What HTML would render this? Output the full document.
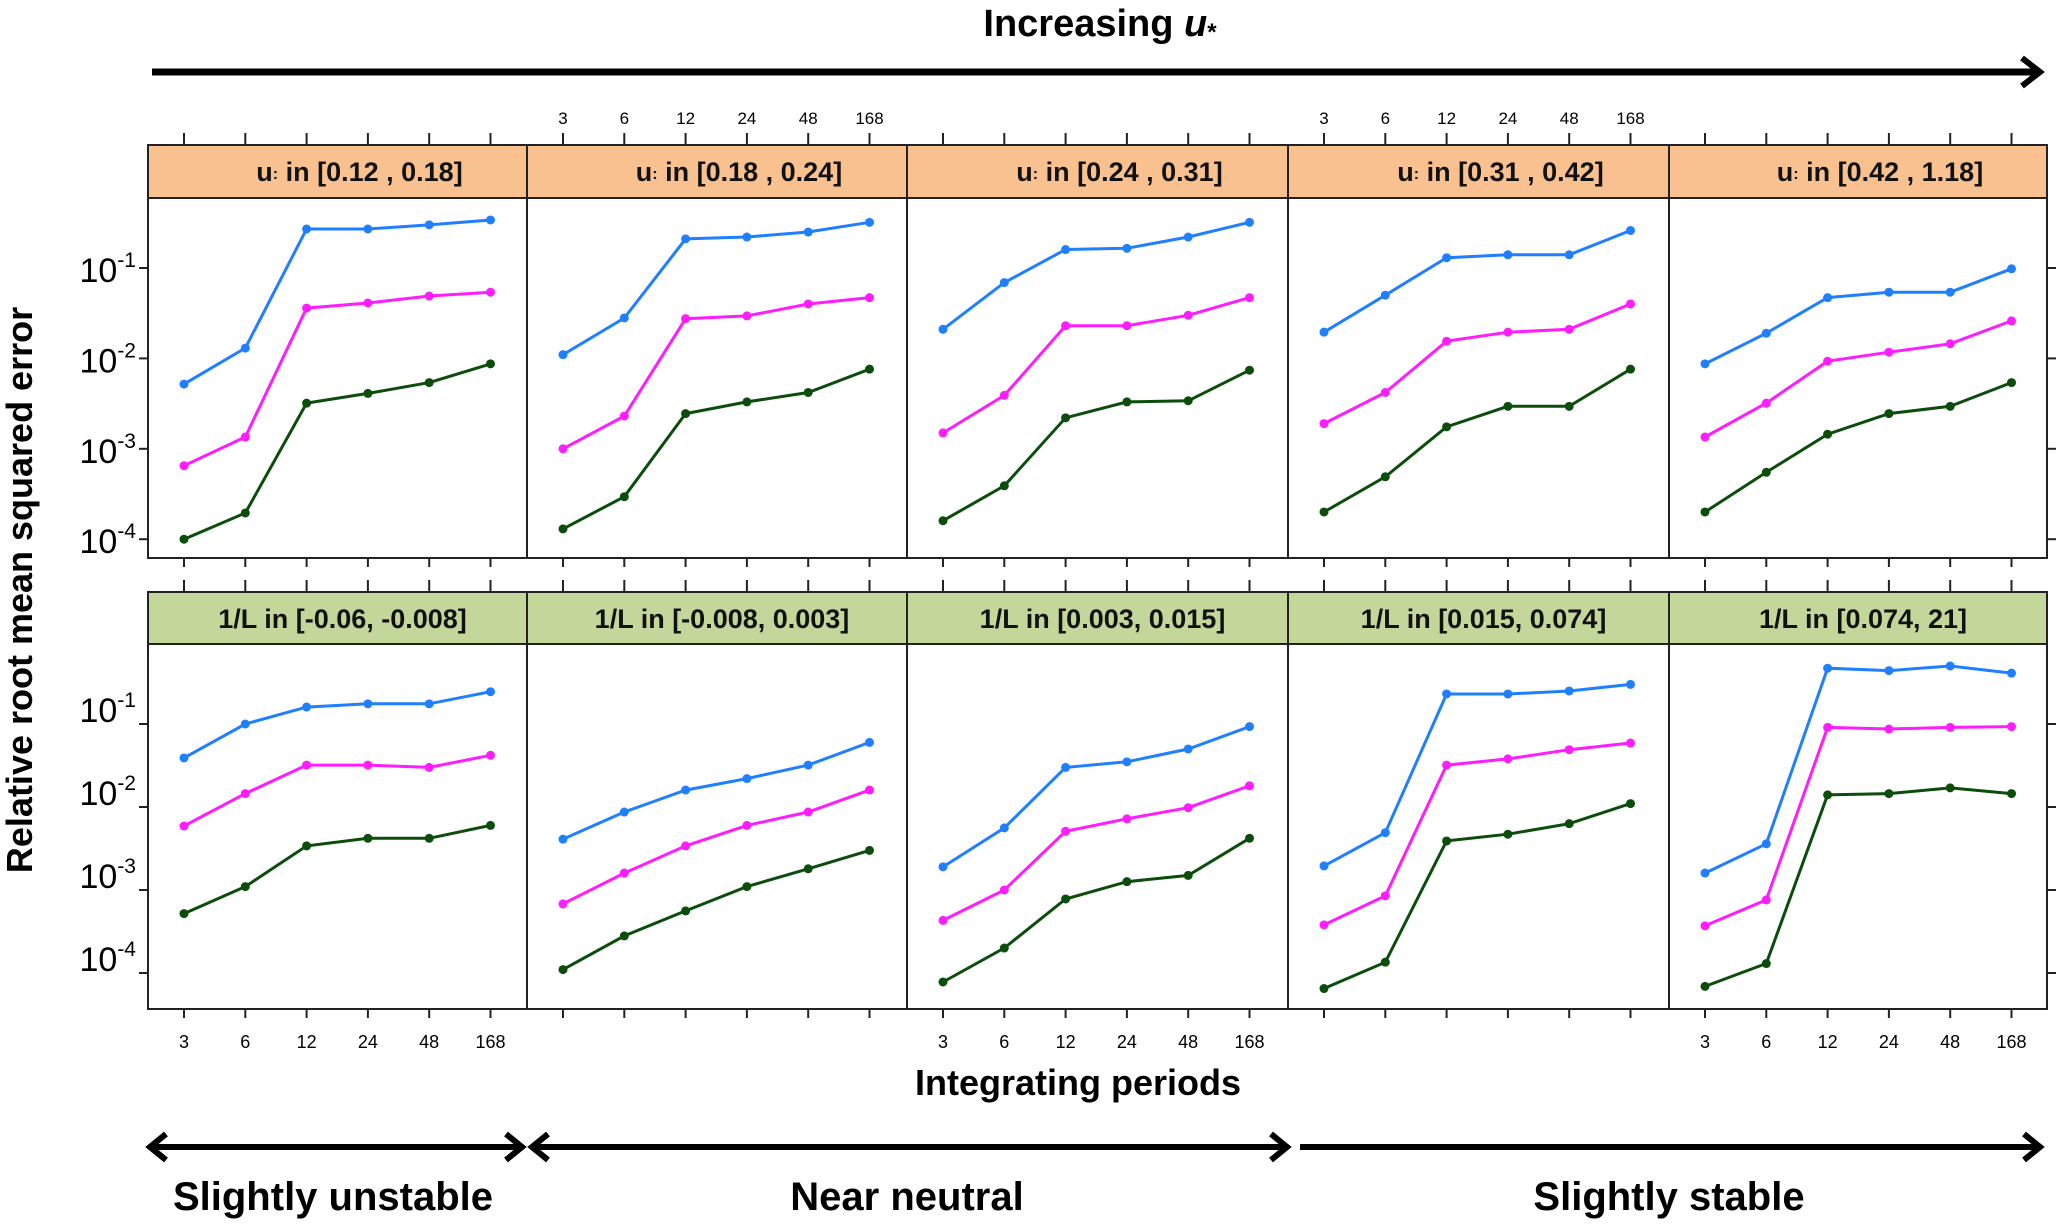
<!DOCTYPE html>
<html><head><meta charset="utf-8"><style>
html,body{margin:0;padding:0;background:#fff}
svg{display:block}
text{font-family:"Liberation Sans",sans-serif}
</style></head><body>
<svg id="chart" width="2067" height="1226" viewBox="0 0 2067 1226" xmlns="http://www.w3.org/2000/svg">
<g id="deco">
  <text x="1100" y="36" font-size="38" font-weight="bold" text-anchor="middle">Increasing <tspan font-style="italic">u</tspan><tspan font-size="24" dy="4">*</tspan></text>
  <g stroke="#000" fill="none" stroke-width="7">
    <line x1="152" y1="72" x2="2036" y2="72"/><polyline points="2022,58 2040,72 2022,86" stroke-width="6"/>
  </g>
  <g stroke="#000" fill="none" stroke-width="6">
    <line x1="152" y1="1147" x2="520" y2="1147"/><polyline points="166,1134 150,1147 166,1160"/><polyline points="506,1134 522,1147 506,1160"/>
    <line x1="534" y1="1147" x2="1285" y2="1147"/><polyline points="548,1134 532,1147 548,1160"/><polyline points="1271,1134 1287,1147 1271,1160"/>
    <line x1="1300" y1="1147" x2="2038" y2="1147"/><polyline points="2024,1134 2040,1147 2024,1160"/>
  </g>
  <text x="333" y="1210" font-size="40" font-weight="bold" text-anchor="middle">Slightly unstable</text>
  <text x="907" y="1210" font-size="40" font-weight="bold" text-anchor="middle">Near neutral</text>
  <text x="1669" y="1210" font-size="40" font-weight="bold" text-anchor="middle">Slightly stable</text>
  <text x="1078" y="1095" font-size="36" font-weight="bold" text-anchor="middle">Integrating periods</text>
  <text transform="translate(32,590) rotate(-90)" font-size="36" font-weight="bold" text-anchor="middle">Relative root mean squared error</text>
</g>
<g id="panels"></g>
</svg>
<script>
const periods = ["3","6","12","24","48","168"];
const topStrips = ["[0.12 , 0.18]","[0.18 , 0.24]","[0.24 , 0.31]","[0.31 , 0.42]","[0.42 , 1.18]"];
const bottomStrips = ["1/L in [-0.06, -0.008]","1/L in [-0.008, 0.003]","1/L in [0.003, 0.015]","1/L in [0.015, 0.074]","1/L in [0.074, 21]"];
const yTickLabels = ["-1","-2","-3","-4"];
const topBlue = [[5.2e-3,1.3e-2,2.7e-1,2.7e-1,3.0e-1,3.4e-1],[1.1e-2,2.8e-2,2.1e-1,2.2e-1,2.5e-1,3.2e-1],[2.1e-2,6.9e-2,1.6e-1,1.65e-1,2.2e-1,3.2e-1],[1.95e-2,5.0e-2,1.3e-1,1.4e-1,1.4e-1,2.6e-1],[8.7e-3,1.9e-2,4.7e-2,5.4e-2,5.4e-2,9.8e-2]];
const topMagenta = [[6.5e-4,1.35e-3,3.6e-2,4.1e-2,4.9e-2,5.4e-2],[1.0e-3,2.3e-3,2.75e-2,2.95e-2,4.0e-2,4.7e-2],[1.5e-3,3.9e-3,2.3e-2,2.3e-2,3.0e-2,4.7e-2],[1.9e-3,4.2e-3,1.55e-2,1.95e-2,2.1e-2,4.0e-2],[1.35e-3,3.2e-3,9.3e-3,1.17e-2,1.45e-2,2.6e-2]];
const topGreen = [[1.0e-4,1.95e-4,3.2e-3,4.1e-3,5.4e-3,8.7e-3],[1.3e-4,2.95e-4,2.45e-3,3.3e-3,4.2e-3,7.6e-3],[1.6e-4,3.9e-4,2.2e-3,3.3e-3,3.4e-3,7.4e-3],[2.0e-4,4.9e-4,1.75e-3,2.95e-3,2.95e-3,7.6e-3],[2.0e-4,5.5e-4,1.45e-3,2.45e-3,2.95e-3,5.4e-3]];
const botBlue = [[3.9e-2,1.0e-1,1.6e-1,1.75e-1,1.75e-1,2.45e-1],[4.1e-3,8.7e-3,1.6e-2,2.2e-2,3.2e-2,6.0e-2],[1.9e-3,5.6e-3,3.0e-2,3.5e-2,5.0e-2,9.3e-2],[1.95e-3,4.9e-3,2.3e-1,2.3e-1,2.5e-1,3.0e-1],[1.6e-3,3.6e-3,4.7e-1,4.4e-1,5.0e-1,4.1e-1]];
const botMagenta = [[5.9e-3,1.45e-2,3.2e-2,3.2e-2,3.0e-2,4.2e-2],[6.8e-4,1.6e-3,3.4e-3,6.0e-3,8.7e-3,1.6e-2],[4.3e-4,1.0e-3,5.1e-3,7.2e-3,9.8e-3,1.8e-2],[3.8e-4,8.5e-4,3.2e-2,3.8e-2,4.9e-2,5.9e-2],[3.7e-4,7.6e-4,9.1e-2,8.7e-2,9.1e-2,9.3e-2]];
const botGreen = [[5.2e-4,1.1e-3,3.4e-3,4.2e-3,4.2e-3,6.0e-3],[1.1e-4,2.8e-4,5.6e-4,1.1e-3,1.8e-3,3.0e-3],[7.8e-5,2.0e-4,7.8e-4,1.26e-3,1.5e-3,4.2e-3],[6.5e-5,1.35e-4,3.9e-3,4.7e-3,6.3e-3,1.1e-2],[6.9e-5,1.3e-4,1.4e-2,1.45e-2,1.7e-2,1.45e-2]];

const NS = "http://www.w3.org/2000/svg";
const root = document.getElementById('panels');
const edges = [148, 527, 907, 1288, 1669, 2047];
const colors = {blue:"#1f7fff", magenta:"#ff1cff", green:"#0b4d0b"};
function mk(tag, attrs, parent){const e=document.createElementNS(NS,tag);for(const k in attrs)e.setAttribute(k,attrs[k]);(parent||root).appendChild(e);return e;}
function xPos(p,i){return edges[p]+36+i*61.3;}
const rows = [
  {stripTop:145, stripBot:198, plotBot:558, dec1:268, decPx:90.4, fill:"#f9c18f", series:[topBlue,topMagenta,topGreen], isTop:true},
  {stripTop:592, stripBot:644, plotBot:1009, dec1:724, decPx:83, fill:"#c4d79b", series:[botBlue,botMagenta,botGreen], isTop:false}
];
function yScale(r,v){return r.dec1 - (Math.log10(v)+1)*r.decPx;}
const serNames=["blue","magenta","green"];
rows.forEach((r,ri)=>{
  for(let p=0;p<5;p++){
    const g=mk('g',{});
    
    
    const st=mk('rect',{x:edges[p],y:r.stripTop,width:edges[p+1]-edges[p],height:r.stripBot-r.stripTop,fill:r.fill,stroke:"#222","stroke-width":2},g);
    
    
    const cx=(edges[p]+edges[p+1])/2+(r.isTop?22:5);
    const t=mk('text',{x:cx,y:r.stripTop+36,"font-size":27,"font-weight":"bold","text-anchor":"middle",fill:"#111"},g);
    
    
    if(r.isTop){t.innerHTML='u<tspan font-size="16" dy="-2">:</tspan><tspan dy="2"> in '+topStrips[p]+'</tspan>';}
    else t.textContent=bottomStrips[p];
    const pr=mk('rect',{x:edges[p],y:r.stripBot,width:edges[p+1]-edges[p],height:r.plotBot-r.stripBot,fill:"none",stroke:"#222","stroke-width":2},g);
    
    
    for(let i=0;i<6;i++){
      const x=xPos(p,i);
      mk('line',{x1:x,x2:x,y1:r.stripTop-12,y2:r.stripTop,stroke:"#222","stroke-width":2},g);
      mk('line',{x1:x,x2:x,y1:r.plotBot,y2:r.plotBot+9,stroke:"#222","stroke-width":2},g);
      if(r.isTop && (p===1||p===3)){
        const tl=mk('text',{x:x,y:124,"font-size":17,"text-anchor":"middle"},g);
        
        
        tl.textContent=periods[i];
      }
      if(!r.isTop && (p===0||p===2||p===4)){
        const tl=mk('text',{x:x,y:1048,"font-size":18,"text-anchor":"middle"},g);
        
        
        tl.textContent=periods[i];
      }
    }
    r.series.forEach((s,si)=>{
      const vals=s[p];
      const pts=vals.map((v,i)=>xPos(p,i).toFixed(1)+','+yScale(r,v).toFixed(1)).join(' ');
      const pl=mk('polyline',{points:pts,fill:"none",stroke:colors[serNames[si]],"stroke-width":3},g);
      
      
      vals.forEach((v,i)=>{
        const c=mk('circle',{cx:xPos(p,i),cy:yScale(r,v),r:4.5,fill:colors[serNames[si]]},g);
        
        
      });
    });
  }
  yTickLabels.forEach((e,k)=>{
    const y=r.dec1+k*r.decPx;
    mk('line',{x1:edges[0]-9,x2:edges[0],y1:y,y2:y,stroke:"#222","stroke-width":2});
    mk('line',{x1:edges[5],x2:edges[5]+9,y1:y,y2:y,stroke:"#222","stroke-width":2});
    const tl=mk('text',{x:edges[0]-12,y:r.isTop?y+14:y-2,"font-size":34,"text-anchor":"end"});
    
    
    tl.innerHTML='10<tspan font-size="21" dy="-15">'+e+'</tspan>';
  });
});
</script>
</body></html>
